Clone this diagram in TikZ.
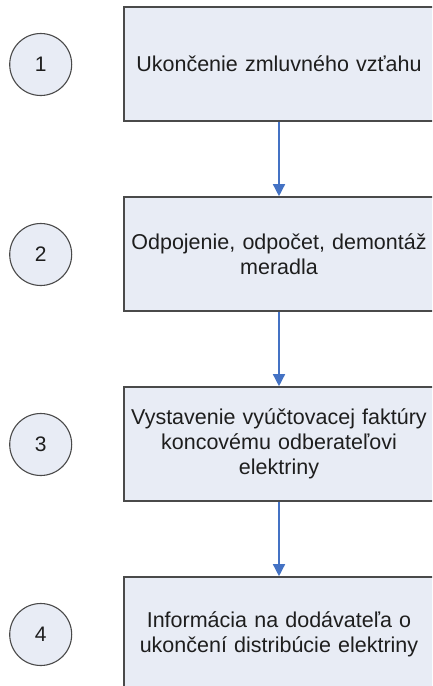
\documentclass[tikz,border=0pt]{standalone}
\usepackage{fontspec}
\setmainfont{Liberation Sans}
\usetikzlibrary{arrows.meta}
\definecolor{boxfill}{HTML}{E8ECF5}
\definecolor{boxline}{HTML}{4A4A4A}
\definecolor{arrowblue}{HTML}{4472C4}
\definecolor{txt}{HTML}{1E1E1E}
\tikzset{
  stepbox/.style={draw=boxline, line width=1.6pt, fill=boxfill, minimum width=310pt, minimum height=114pt,
    text width=300pt, align=center, inner sep=0pt, font=\fontsize{21.5}{24.8}\selectfont, text=txt},
  numcirc/.style={draw=boxline, line width=1.1pt, fill=boxfill, circle, minimum size=62pt, inner sep=0pt,
    font=\fontsize{21}{24}\selectfont, text=txt},
  flow/.style={draw=arrowblue, line width=1.4pt, -{Triangle[width=12pt,length=12pt]}}
}
\begin{document}
\begin{tikzpicture}[x=1pt,y=-1pt]
\useasboundingbox (0,0) rectangle (432,686);
\clip (0,0) rectangle (432,686);
\fill[white] (0,0) rectangle (432,686);
\node[stepbox] (b1) at (279,64) {Ukončenie zmluvného vzťahu};
\node[stepbox] (b2) at (279,254) {Odpojenie, odpočet, demontáž\\meradla};
\node[stepbox] (b3) at (279,444) {Vystavenie vyúčtovacej faktúry\\koncovému odberateľovi\\elektriny};
\node[stepbox] (b4) at (279,634) {Informácia na dodávateľa o\\ukončení distribúcie elektriny};
\node[numcirc] (c1) at (40.7,64.5) {1};
\node[numcirc] (c2) at (40.7,254.5) {2};
\node[numcirc] (c3) at (40.7,444.5) {3};
\node[numcirc] (c4) at (40.7,634.5) {4};
\draw[flow] (b1.south) -- (b2.north);
\draw[flow] (b2.south) -- (b3.north);
\draw[flow] (b3.south) -- (b4.north);
\end{tikzpicture}
\end{document}
